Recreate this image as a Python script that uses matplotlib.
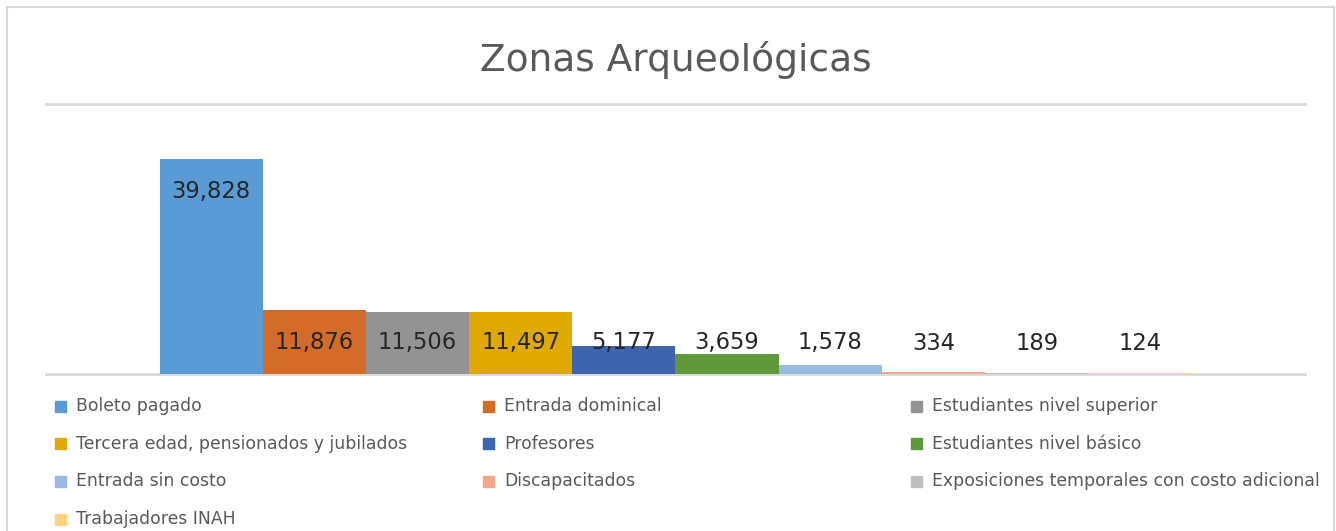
import numpy as np
import matplotlib.pyplot as plt
from matplotlib.patches import Rectangle
from matplotlib.lines import Line2D

plt.rcParams['font.family'] = ['DejaVu Sans']

# data
series = ['Boleto pagado', 'Entrada dominical', 'Estudiantes nivel superior',
          'Tercera edad, pensionados y jubilados', 'Profesores', 'Estudiantes nivel básico',
          'Entrada sin costo', 'Discapacitados', 'Exposiciones temporales con costo adicional',
          'Trabajadores INAH']
values = [39828, 11876, 11506, 11497, 5177, 3659, 1578, 334, 189, 124]
colors = ['#5B9BD5', '#D46B28', '#939393', '#E0A900', '#3D64AC', '#5F993B',
          '#9ABBE1', '#F1A88A', '#BEBEBE', '#FFD280']
title = 'Zonas Arqueológicas'

W, H = 1336, 531
fig = plt.figure(figsize=(W / 100, H / 100), dpi=100)

# plot area in pixels
x0, x1, ytop, ybot = 46, 1305, 104, 374
ax = fig.add_axes([x0 / W, 1 - ybot / H, (x1 - x0) / W, (ybot - ytop) / H])

ymax = 50000
gap = 1.1
pos = np.arange(len(values))
ax.axhline(0, color='#D9D9D9', lw=2, zorder=1, clip_on=False)
ax.axhline(ymax, color='#D9D9D9', lw=2, zorder=1, clip_on=False)
ax.bar(pos, values, width=1.0, color=colors, zorder=2)
ax.set_xlim(-0.5 - gap, len(values) - 0.5 + gap)
ax.set_ylim(0, ymax)
ax.axis('off')

# data labels: inside end, kept above the axis
px = ymax / (ybot - ytop)
for p, v in zip(pos, values):
    y = max(v - 33 * px, 31 * px)
    ax.text(p, y, f'{v:,}', ha='center', va='center', fontsize=16.3, color='#262626', zorder=3)

ax.text(0.5, 1 + 44 / (ybot - ytop), title, transform=ax.transAxes, ha='center', va='center',
        fontsize=27, color='#595959')

# legend, filled row-wise like Excel
for i, (name, c) in enumerate(zip(series, colors)):
    r, col = divmod(i, 3)
    cx = 55 + col * 428
    cy = 406 + r * 37.7
    fig.patches.append(Rectangle((cx / W, 1 - (cy + 5.5) / H), 11 / W, 11 / H,
                                 transform=fig.transFigure, color=c, figure=fig))
    fig.text((cx + 21) / W, 1 - cy / H, name, fontsize=12.4, color='#595959', va='center', ha='left')

# outer chart border
for xs, ys in [([7, 7], [7, 531]), ([7, 1334], [7, 7]), ([1334, 1334], [7, 531])]:
    fig.add_artist(Line2D([x / W for x in xs], [1 - y / H for y in ys], color='#D9D9D9', lw=1.5))

fig.savefig('out.png', dpi=100)
